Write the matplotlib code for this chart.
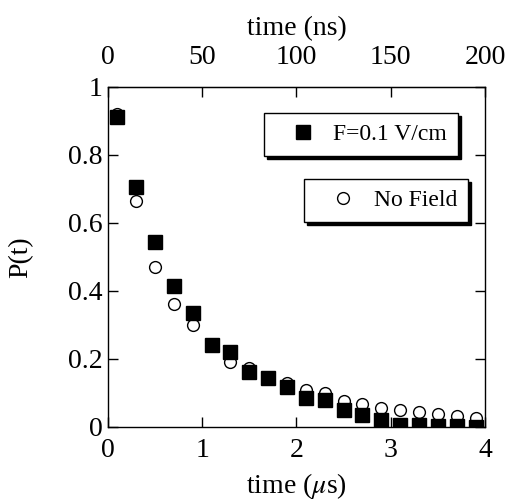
import matplotlib
matplotlib.use("Agg")
import matplotlib.pyplot as plt
from matplotlib.ticker import FixedLocator, FuncFormatter

plt.rcParams['font.family'] = ['Liberation Serif', 'DejaVu Serif']
plt.rcParams['mathtext.fontset'] = 'stix'

time_us = [0.1, 0.3, 0.5, 0.7, 0.9, 1.1, 1.3, 1.5, 1.7, 1.9,
           2.1, 2.3, 2.5, 2.7, 2.9, 3.1, 3.3, 3.5, 3.7, 3.9]
p_field = [0.913, 0.707, 0.545, 0.415, 0.334, 0.241, 0.222, 0.163, 0.143, 0.118,
           0.084, 0.079, 0.050, 0.035, 0.020, 0.006, 0.006, 0.002, 0.002, 0.0]
p_nofield = [0.922, 0.665, 0.472, 0.362, 0.299, 0.240, 0.190, 0.175, 0.145, 0.128,
             0.109, 0.099, 0.076, 0.068, 0.057, 0.050, 0.043, 0.037, 0.033, 0.027]
bottom_ticks = [0, 1, 2, 3, 4]
top_ticks_ns = [0, 50, 100, 150, 200]
y_ticks = [0, 0.2, 0.4, 0.6, 0.8, 1.0]
label_field = 'F=0.1 V/cm'
label_nofield = 'No Field'

fig = plt.figure(figsize=(5.06, 5.0), dpi=100)
ax = fig.add_axes([0.2134, 0.146, 0.745, 0.68])

ax.plot(time_us, p_nofield, 'o', ms=8.5, mfc='white', mec='black', mew=1.0,
        label=label_nofield, zorder=3)
ax.plot(time_us, p_field, 's', ms=9.5, mfc='black', mec='black',
        label=label_field, zorder=4)

ax.set_xlim(0, 4)
ax.set_ylim(0, 1)
ax.xaxis.set_major_locator(FixedLocator(bottom_ticks))
ax.yaxis.set_major_locator(FixedLocator(y_ticks))
ax.yaxis.set_major_formatter(FuncFormatter(lambda v, p: '%g' % v))
ax.tick_params(direction='in', length=7, width=1, labelsize=20, right=True)
ax.tick_params(axis='x', pad=8)
ax.tick_params(axis='y', pad=4)
for s in ax.spines.values():
    s.set_linewidth(1.0)

ax.set_xlabel(r'time ($\mu$s)', fontsize=20, labelpad=6)
ax.set_ylabel('P(t)', fontsize=20, labelpad=25)

top = ax.secondary_xaxis('top', functions=(lambda x: x * 50, lambda x: x / 50))
top.xaxis.set_major_locator(FixedLocator(top_ticks_ns))
top.tick_params(direction='in', length=7, width=1, labelsize=20, pad=12)
top.set_xlabel('time (ns)', fontsize=20, labelpad=7)

h_no, h_f = ax.get_lines()
shadow = {'color': 'black', 'alpha': 1.0}
leg1 = ax.legend([h_f], [label_field], loc='upper right',
                 bbox_to_anchor=(0.928, 0.9235), borderaxespad=0,
                 fontsize=17, fancybox=False, edgecolor='black', framealpha=1,
                 shadow=shadow, handlelength=2.4, handletextpad=0.1,
                 borderpad=0.45, numpoints=1)
leg1.get_frame().set_linewidth(1.0)
ax.add_artist(leg1)
leg2 = ax.legend([h_no], [label_nofield], loc='upper right',
                 bbox_to_anchor=(0.955, 0.729), borderaxespad=0,
                 fontsize=17, fancybox=False, edgecolor='black', framealpha=1,
                 shadow=shadow, handlelength=2.4, handletextpad=0.1,
                 borderpad=0.45, numpoints=1)
leg2.get_frame().set_linewidth(1.0)

fig.savefig('out.png', dpi=100)
